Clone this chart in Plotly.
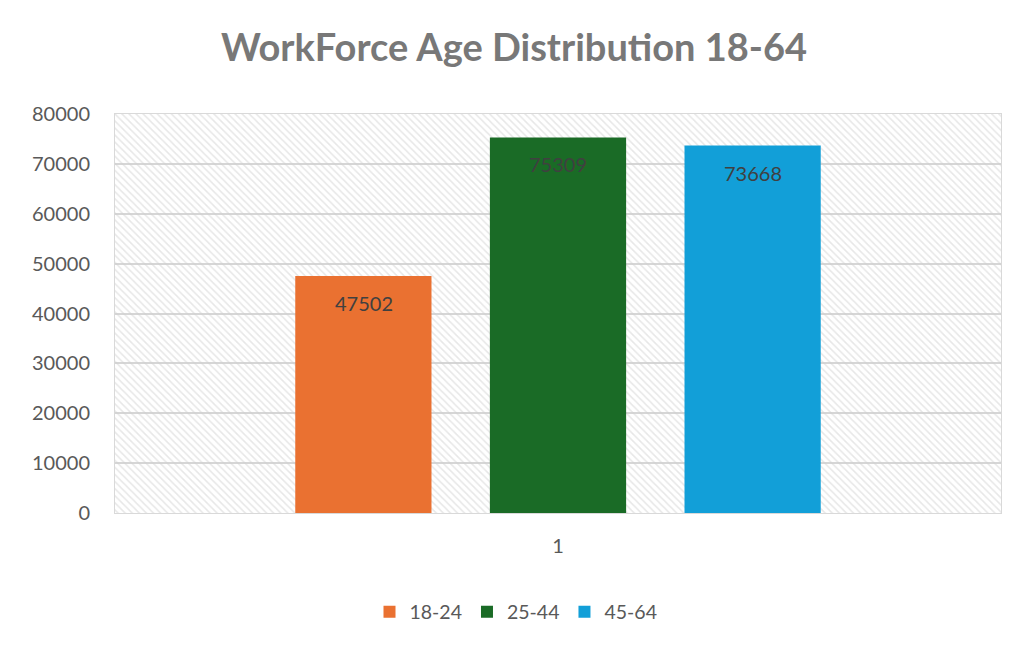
import plotly.graph_objects as go

categories = ["1"]
series_names = ["18-24", "25-44", "45-64"]
series_values = [[47502], [75309], [73668]]
colors = ["#EA7131", "#1A6B26", "#129FD8"]
y_ticks = list(range(0, 80001, 10000))

FONT = "Lato, 'Open Sans', sans-serif"

W, H = 1020, 642
L, R, T, B = 107, 27, 106, 137
PW, PH = W - L - R, H - T - B

fig = go.Figure()

# hatched plot-area background on hidden main axes (drawn below overlay)
fig.add_trace(go.Scatter(
    x=[0, 1, 1, 0, 0], y=[0, 0, 1, 1, 0], mode="lines", line=dict(width=0),
    fill="toself", fillcolor="rgba(0,0,0,0)",
    fillpattern=dict(shape="\\", size=5, solidity=0.3, fgcolor="#cfcfcf", bgcolor="rgba(0,0,0,0)"),
    xaxis="x", yaxis="y", hoverinfo="skip", showlegend=False,
))

for name, vals, col in zip(series_names, series_values, colors):
    fig.add_trace(go.Bar(
        x=categories, y=vals, name=name, marker=dict(color=col, line=dict(width=0)),
        xaxis="x2", yaxis="y2",
    ))

# data labels (inside end)
n = len(series_names)
for i, (name, vals) in enumerate(zip(series_names, series_values)):
    for ci, v in enumerate(vals):
        fig.add_annotation(
            x=ci, y=v, text=str(v), showarrow=False, xref="x2", yref="y2",
            xshift=(i - (n - 1) / 2) * 194.5, yshift=-27,
            font=dict(family=FONT, size=20, color="#404040"),
        )

tickfont = dict(family=FONT, size=20, color="#595959")
fig.update_layout(
    width=W, height=H,
    margin=dict(l=L, r=R, t=T, b=B, autoexpand=False),
    paper_bgcolor="white", plot_bgcolor="white",
    title=dict(text="<b>WorkForce Age Distribution 18-64</b>", x=506 / W, xref="container", xanchor="center",
               y=1 - 40 / H, yanchor="middle", yref="container",
               font=dict(family=FONT, size=38, color="#787878")),
    barmode="group", bargap=0.341, bargroupgap=0.30,
    showlegend=True,
    legend=dict(orientation="h", x=(508 - L) / PW, xanchor="center", y=-99 / PH, yanchor="middle",
                font=dict(family=FONT, size=19.5, color="#595959"), itemwidth=30,
                traceorder="normal"),
    xaxis=dict(range=[0, 1], visible=False, fixedrange=True),
    yaxis=dict(range=[0, 1], visible=False, fixedrange=True),
    xaxis2=dict(type="category", range=[-0.5, len(categories) - 0.5], overlaying="x",
                showgrid=False, showline=True, linecolor="#d9d9d9",
                mirror=True, ticks="", tickfont=tickfont, ticklabelstandoff=15, zeroline=False,
                automargin=False),
    yaxis2=dict(range=[0, 80000], tickvals=y_ticks, tickformat="d", overlaying="y", side="left",
                showgrid=True, gridcolor="#d6d6d6", gridwidth=1.5,
                showline=True, linecolor="#d9d9d9", mirror=True, zeroline=False,
                ticks="", tickfont=tickfont, ticklabelstandoff=20, automargin=False),
    shapes=[dict(type="line", xref="paper", yref="paper",
                 x0=1 + (R - 2) / PW, x1=1 + (R - 2) / PW, y0=-B / PH, y1=1 + T / PH,
                 line=dict(color="#d9d9d9", width=2), layer="below")],
)

fig.write_html("out.html")
